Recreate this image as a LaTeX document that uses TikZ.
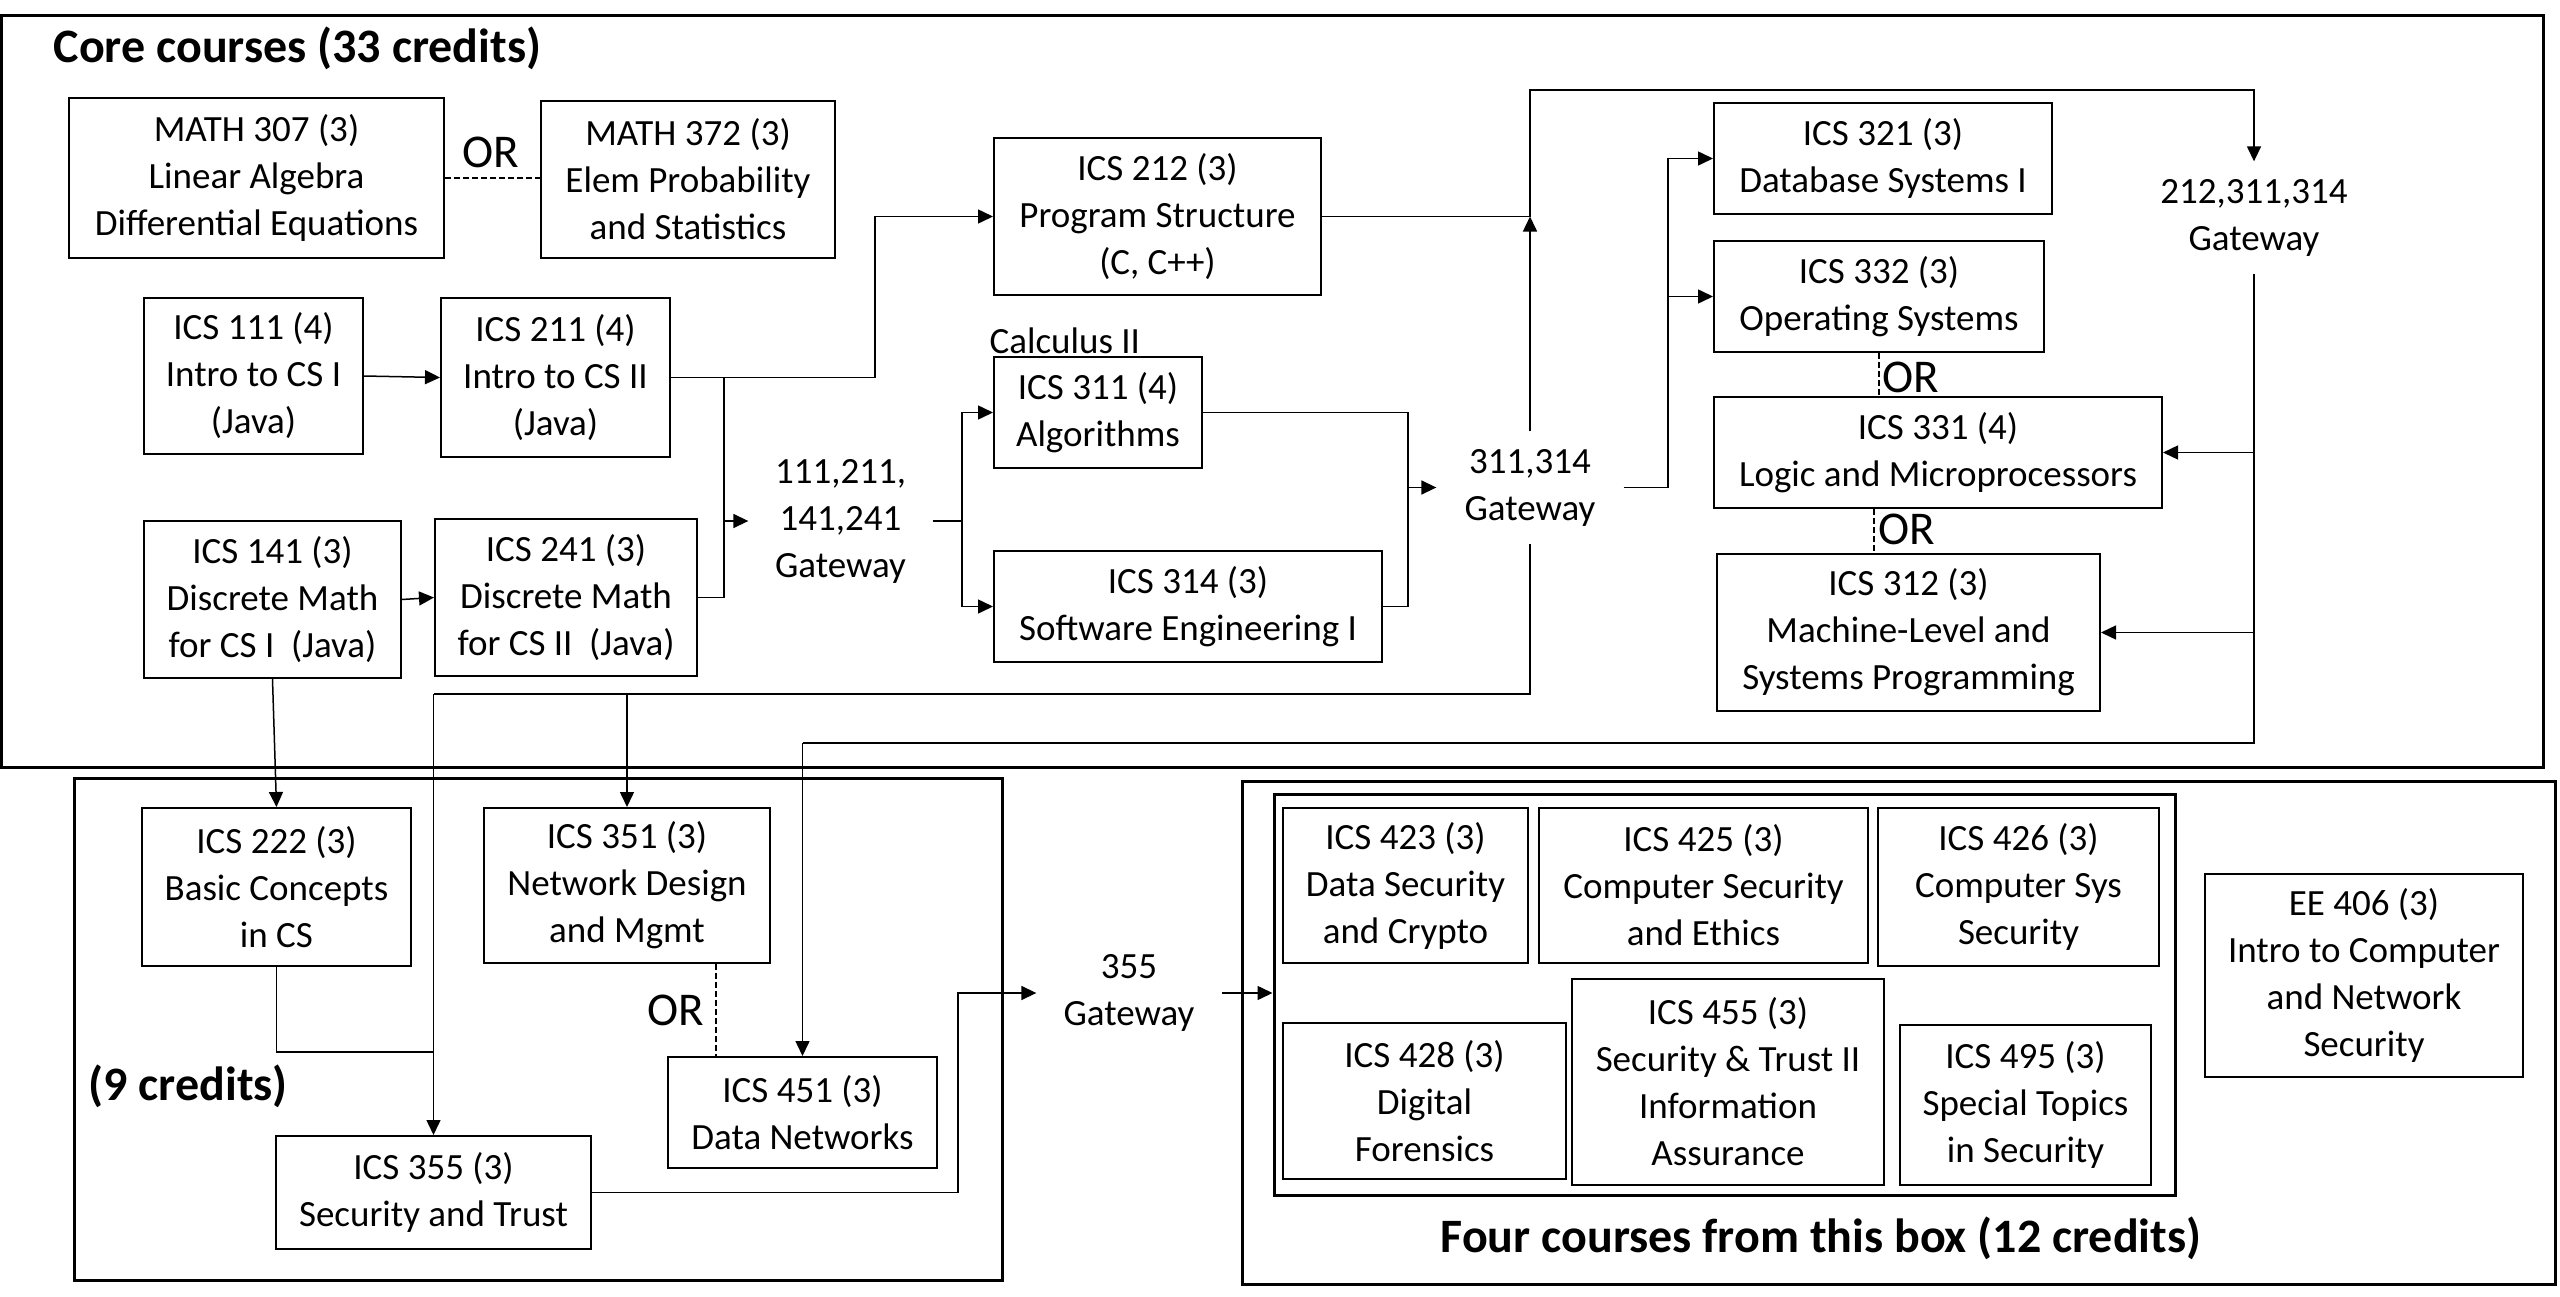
\documentclass[tikz,border=0pt]{standalone}
\usepackage{fontspec}
\setmainfont{Carlito}
\usetikzlibrary{arrows.meta}
\newcommand\boxfont{\fontsize{11.1pt}{14.1pt}\selectfont}
\newcommand\bigfont{\fontsize{14.1pt}{17pt}\selectfont}
\newcommand\titlefont{\fontsize{14.4pt}{17pt}\selectfont\bfseries}
\newcommand\pbox[7]{\node[#1,minimum width={(#5-#3)*0.3pt},minimum height={(#6-#4)*0.3pt}] (#2) at ({(#3+#5)/2},{(#4+#6)/2}) {#7};}
\begin{document}
\begin{tikzpicture}[x=0.3pt,y=-0.3pt,
  cbox/.style={draw, line width=0.6pt, inner sep=0pt, align=center, font=\boxfont},
  bigframe/.style={draw, line width=0.9pt, inner sep=0pt},
  gw/.style={inner sep=0pt, align=center, font=\boxfont},
  arr/.style={line width=0.45pt, -{Triangle[length=4.5pt,width=4.2pt]}},
  ln/.style={line width=0.45pt},
  dsh/.style={line width=0.35pt, dash pattern=on 1.8pt off 0.9pt},
  lbl/.style={inner sep=0pt, font=\bigfont},
]
\useasboundingbox[fill=white] (0,0) rectangle (2560,1297);
% frames
\pbox{bigframe}{core}{2}{15}{2543}{767}{}
\pbox{bigframe}{elec}{74}{778}{1002}{1280}{}
\pbox{bigframe}{four}{1242}{781}{2555}{1284}{}
\pbox{bigframe}{inner}{1274}{794}{2175}{1195}{}
% titles
\node[anchor=base west, inner sep=0pt, font=\titlefont] (tcore) at (53,62) {Core courses (33 credits)};
\node[anchor=west, inner sep=0pt, font=\titlefont] (tnine) at (88,1086) {(9 credits)};
\node[anchor=center, inner sep=0pt, font=\titlefont] (tfour) at (1821,1238) {Four courses from this box (12 credits)};
% courses
\pbox{cbox}{m307}{69}{98}{444}{258}{MATH 307 (3)\\Linear Algebra\\Differential Equations}
\pbox{cbox}{m372}{541}{101}{835}{258}{MATH 372 (3)\\Elem Probability\\and Statistics}
\pbox{cbox}{c111}{144}{298}{363}{454}{ICS 111 (4)\\Intro to CS I\\(Java)}
\pbox{cbox}{c211}{441}{298}{670}{457}{ICS 211 (4)\\Intro to CS II\\(Java)}
\pbox{cbox}{c141}{144}{521}{401}{678}{ICS 141 (3)\\Discrete Math\\for CS I\ \ (Java)}
\pbox{cbox}{c241}{435}{519}{697}{676}{ICS 241 (3)\\Discrete Math\\for CS II\ \ (Java)}
\pbox{cbox}{c212}{994}{138}{1321}{295}{ICS 212 (3)\\Program Structure\\(C, C++)}
\pbox{cbox}{c311}{994}{357}{1202}{468}{ICS 311 (4)\\Algorithms}
\pbox{cbox}{c314}{994}{551}{1382}{662}{ICS 314 (3)\\Software Engineering I}
\pbox{cbox}{c321}{1714}{103}{2052}{214}{ICS 321 (3)\\Database Systems I}
\pbox{cbox}{c332}{1714}{241}{2044}{352}{ICS 332 (3)\\Operating Systems}
\pbox{cbox}{c331}{1714}{397}{2162}{508}{ICS 331 (4)\\Logic and Microprocessors}
\pbox{cbox}{c312}{1717}{554}{2100}{711}{ICS 312 (3)\\Machine-Level and\\Systems Programming}
\pbox{cbox}{c222}{142}{808}{411}{966}{ICS 222 (3)\\Basic Concepts\\in CS}
\pbox{cbox}{c351}{484}{808}{770}{963}{ICS 351 (3)\\Network Design\\and Mgmt}
\pbox{cbox}{c355}{276}{1136}{591}{1249}{ICS 355 (3)\\Security and Trust}
\pbox{cbox}{c451}{668}{1057}{937}{1168}{ICS 451 (3)\\Data Networks}
\pbox{cbox}{c423}{1283}{808}{1528}{963}{ICS 423 (3)\\Data Security\\and Crypto}
\pbox{cbox}{c425}{1539}{808}{1868}{963}{ICS 425 (3)\\Computer Security\\and Ethics}
\pbox{cbox}{c426}{1878}{808}{2159}{966}{ICS 426 (3)\\Computer Sys\\Security}
\pbox{cbox}{c428}{1283}{1023}{1566}{1179}{ICS 428 (3)\\Digital\\Forensics}
\pbox{cbox}{c455}{1572}{979}{1884}{1185}{ICS 455 (3)\\Security \& Trust II\\Information\\Assurance}
\pbox{cbox}{c495}{1900}{1025}{2151}{1185}{ICS 495 (3)\\Special Topics\\in Security}
\pbox{cbox}{ee406}{2205}{874}{2523}{1077}{EE 406 (3)\\Intro to Computer\\and Network\\Security}
% gateways
\pbox{gw}{g1}{749}{460}{932}{582}{111,211,\\141,241\\Gateway}
\pbox{gw}{g2}{1437}{432}{1623}{543}{311,314\\Gateway}
\pbox{gw}{g3}{2160}{162}{2348}{273}{212,311,314\\Gateway}
\pbox{gw}{g4}{1037}{945}{1221}{1041}{355\\Gateway}
% labels
\node[lbl, anchor=base] (or1) at (491,167) {OR};
\node[lbl, anchor=base] (or2) at (1911,392) {OR};
\node[lbl, anchor=base] (or3) at (1907,544) {OR};
\node[lbl, anchor=base] (or4) at (676,1025) {OR};
\node[anchor=base west, inner sep=0pt, font=\boxfont] (calc) at (989,353) {Calculus II};
% junctions
\coordinate (j1) at (875,0);
\coordinate (j2) at (724,521);
\coordinate (j3) at (962,521);
\coordinate (j4) at (1408,487.5);
\coordinate (j5) at (1530,216.5);
\coordinate (j6) at (1530,90);
\coordinate (j7) at (1668,487.5);
\coordinate (j8) at (1530,694);
\coordinate (j9) at (433.5,694);
\coordinate (j10) at (627,694);
\coordinate (j11) at (433.5,1052);
\coordinate (j12) at (2254,743);
\coordinate (j13) at (802.5,743);
\coordinate (j14) at (958,993);
\coordinate (d3) at (1874,0);
\coordinate (d4) at (716,0);
% connectors
\draw[dsh] (m307.east) -- (m307.east -| m372.west);
\draw[arr] (c111.east) -- (c211.west);
\draw[arr] (c141.east) -- (c241.west);
\draw[arr] (c211.east) -- (c211.east -| j1) |- (c212.west);
\draw[ln] (c211.east) -| (j2);
\draw[ln] (c241.east) -| (j2);
\draw[arr] (j2) -- (g1.west);
\draw[ln] (g1.east) -- (j3);
\draw[arr] (j3) |- (c311.west);
\draw[arr] (j3) |- (c314.west);
\draw[ln] (c311.east) -| (j4);
\draw[ln] (c314.east) -| (j4);
\draw[arr] (j4) -- (g2.west);
\draw[arr] (g2.north) -- (j5);
\draw[arr] (c212.east) -- (j5) -- (j6) -| (g3.north);
\draw[ln] (g2.east) -- (j7);
\draw[arr] (j7) |- (c321.west);
\draw[arr] (j7) |- (c332.west);
\draw[ln] (g2.south) -- (j8) -- (j9);
\draw[arr] (j9) -- (c355.north);
\draw[arr] (j10) -- (c351.north);
\draw[arr] (c141.south) -- (c222.north);
\draw[ln] (c222.south) |- (j11);
\draw[ln] (g3.south) -- (j12) -- (j13);
\draw[arr] (j13) -- (c451.north);
\draw[arr] (c331.east -| j12) -- (c331.east);
\draw[arr] (c312.east -| j12) -- (c312.east);
\draw[arr] (c355.east) -| (j14) -- (g4.west);
\draw[arr] (g4.east) -- (g4.east -| inner.west);
\draw[dsh] (c332.south) -- (c332.south |- c331.north);
\draw[dsh] (c331.south -| d3) -- (c312.north -| d3);
\draw[dsh] (c351.south -| d4) -- (c451.north -| d4);
\end{tikzpicture}
\end{document}
